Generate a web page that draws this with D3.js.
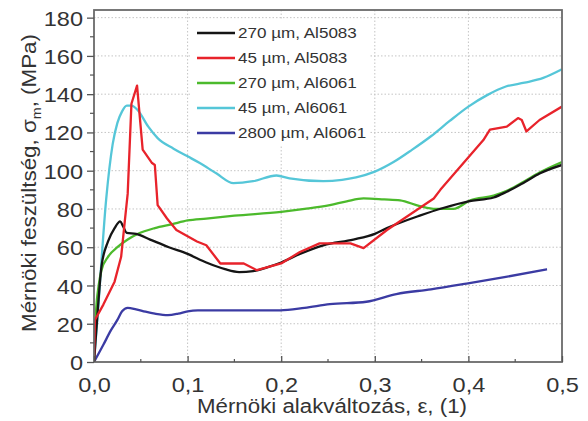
<!DOCTYPE html>
<html><head><meta charset="utf-8">
<script src="https://cdn.jsdelivr.net/npm/d3@7"></script>
<style>
html,body{margin:0;padding:0;background:#fff;}
svg{display:block;font-family:"Liberation Sans",Arial,sans-serif;}
</style></head>
<body><svg id="c" width="588" height="421"></svg>
<script>
const xTicks = [0, 0.1, 0.2, 0.3, 0.4, 0.5];
const yTicks = [0, 20, 40, 60, 80, 100, 120, 140, 160, 180];
const seriesNames = ["270 µm, Al5083", "45 µm, Al5083", "270 µm, Al6061", "45 µm, Al6061", "2800 µm, Al6061"];
const seriesColors = ["#151515", "#e8232b", "#4cba2c", "#55c6d8", "#3b3ba3"];

const black270_5083 = [[0,0],[0.004,27],[0.008,50],[0.015,63],[0.022,70],[0.028,73.5],[0.031,71],[0.035,67.5],[0.045,67],[0.06,64],[0.08,60],[0.1,56.5],[0.12,52],[0.14,48.5],[0.155,47],[0.17,47.5],[0.185,49.5],[0.2,52],[0.22,56.5],[0.245,61],[0.277,64],[0.3,67],[0.313,70],[0.348,76.5],[0.373,80.5],[0.4,84],[0.427,86],[0.441,89],[0.46,94],[0.476,98.5],[0.5,103]];
const red45_5083 = [[0,0],[0.001,22],[0.01,30],[0.022,42],[0.029,55],[0.033,74],[0.036,88],[0.040,135],[0.046,144.5],[0.052,111],[0.062,104],[0.065,103],[0.068,82],[0.078,75],[0.088,69],[0.11,63],[0.12,61],[0.135,51.5],[0.16,51.5],[0.174,48],[0.2,51.5],[0.22,57.5],[0.241,62],[0.274,62],[0.288,59.5],[0.313,69],[0.363,85.5],[0.37,90],[0.416,116],[0.423,121.5],[0.441,123],[0.453,127.5],[0.457,126.5],[0.462,120.5],[0.476,126.5],[0.5,133.5]];
const green270_6061 = [[0,0],[0.002,25],[0.005,40],[0.008,48],[0.015,55],[0.025,60],[0.036,64],[0.047,67],[0.065,70],[0.083,72],[0.1,74],[0.12,75],[0.15,76.5],[0.2,78.5],[0.225,80],[0.252,82],[0.27,84],[0.288,85.5],[0.31,85],[0.327,84.5],[0.348,81.5],[0.365,80],[0.384,80],[0.402,84.5],[0.427,87],[0.441,89.5],[0.46,94.5],[0.476,99],[0.5,104.5]];
const cyan45_6061 = [[0,0],[0.004,25],[0.013,85],[0.02,114],[0.025,125],[0.03,131],[0.035,134],[0.04,134],[0.047,131.5],[0.058,123],[0.068,117],[0.085,111.5],[0.1,107.5],[0.113,104],[0.131,98.5],[0.149,93.5],[0.17,94.5],[0.195,97.5],[0.209,96],[0.245,94.5],[0.265,95.2],[0.28,96.5],[0.3,99.5],[0.32,104.5],[0.34,111],[0.36,118],[0.38,126],[0.4,133.5],[0.42,139.5],[0.44,144],[0.46,146],[0.48,148.5],[0.5,153]];
const blue2800_6061 = [[0,0],[0.01,9],[0.018,16.5],[0.025,22],[0.03,26.5],[0.036,28.3],[0.045,27.5],[0.055,26.3],[0.065,25.3],[0.079,24.5],[0.09,25.3],[0.1,26.5],[0.111,27],[0.15,27],[0.199,27],[0.225,28.3],[0.252,30.2],[0.291,31.5],[0.323,35.5],[0.36,38],[0.398,41],[0.44,44.5],[0.484,48.5]];

const seriesData = [black270_5083, red45_5083, green270_6061, cyan45_6061, blue2800_6061];
const seriesSmooth = [true, false, true, true, true];
const drawOrder = [3, 4, 2, 0, 1];

const svg = d3.select("#c");
const m = {l:94, r:562, t:10, b:362};
const x = d3.scaleLinear().domain([0,0.5]).range([m.l, m.r]);
const y = d3.scaleLinear().domain([0,184]).range([m.b, m.t]);
const fmt = d => d3.format(".1f")(d).replace(".", ",");
function stretch(sel, k){
  sel.each(function(){ const w = this.getComputedTextLength(); d3.select(this).attr("textLength", w*k).attr("lengthAdjust","spacingAndGlyphs"); });
}

// grid
const grid = svg.append("g").attr("stroke","#c4c4c4").attr("stroke-width",1).attr("stroke-dasharray","1.5,2");
grid.selectAll(".gx").data(xTicks.slice(1,-1)).join("line")
  .attr("x1",d=>x(d)).attr("x2",d=>x(d)).attr("y1",m.t).attr("y2",m.b);
grid.selectAll(".gy").data(yTicks.slice(1)).join("line")
  .attr("y1",d=>y(d)).attr("y2",d=>y(d)).attr("x1",m.l).attr("x2",m.r);

// curves
svg.append("clipPath").attr("id","pc").append("rect")
  .attr("x",m.l).attr("y",m.t).attr("width",m.r-m.l).attr("height",m.b-m.t);
const lines = svg.append("g").attr("clip-path","url(#pc)");
drawOrder.forEach(i => {
  const gen = d3.line().x(d=>x(d[0])).y(d=>y(d[1]))
    .curve(seriesSmooth[i] ? d3.curveMonotoneX : d3.curveLinear);
  lines.append("path").datum(seriesData[i]).attr("d",gen)
    .attr("fill","none").attr("stroke",seriesColors[i]).attr("stroke-width",2.3)
    .attr("stroke-linejoin","round");
});

// frame
svg.append("rect").attr("x",m.l).attr("y",m.t).attr("width",m.r-m.l).attr("height",m.b-m.t)
  .attr("fill","none").attr("stroke","#6a6a6a").attr("stroke-width",1.8);

// y axis (outward ticks)
const yAx = d3.axisLeft(y).tickValues(yTicks).tickSize(7).tickPadding(4).tickFormat(d3.format("d"));
const gy = svg.append("g").attr("transform",`translate(${m.l},0)`).call(yAx);
gy.select(".domain").remove();
gy.selectAll(".tick line").attr("stroke","#555").attr("stroke-width",1.3);
gy.selectAll("text").attr("font-size",21).attr("fill","#333").attr("dy","0.36em");
stretch(gy.selectAll("text"), 1.12);
const yMinor = d3.range(10,184,20);
gy.selectAll(".ym").data(yMinor).join("line").attr("x1",0).attr("x2",-4)
  .attr("y1",d=>y(d)).attr("y2",d=>y(d)).attr("stroke","#555").attr("stroke-width",1.2);

// x axis (inward ticks)
const xAx = d3.axisBottom(x).tickValues(xTicks).tickSize(-6).tickPadding(15).tickFormat(fmt);
const gx = svg.append("g").attr("transform",`translate(0,${m.b})`).call(xAx);
gx.select(".domain").remove();
gx.selectAll(".tick line").attr("stroke","#555").attr("stroke-width",1.3);
gx.selectAll("text").attr("font-size",21).attr("fill","#333");
stretch(gx.selectAll("text"), 1.12);
const xMinor = d3.range(0.05,0.5,0.1);
gx.selectAll(".xm").data(xMinor).join("line").attr("y1",0).attr("y2",-3)
  .attr("x1",d=>x(d)).attr("x2",d=>x(d)).attr("stroke","#555").attr("stroke-width",1.2);

// axis titles
const xt = svg.append("text").attr("x",332).attr("y",413).attr("text-anchor","middle")
  .attr("font-size",20).attr("fill","#333").text("Mérnöki alakváltozás, ε, (1)");
xt.attr("textLength",270).attr("lengthAdjust","spacingAndGlyphs");
const yt = svg.append("text").attr("transform",`translate(36,${183}) rotate(-90)`)
  .attr("text-anchor","middle").attr("font-size",20.5).attr("fill","#333");
yt.append("tspan").text("Mérnöki feszültség, σ");
yt.append("tspan").attr("font-size",13).attr("dy",5).text("m");
yt.append("tspan").attr("dy",-5).text(", (MPa)");
yt.attr("textLength",298).attr("lengthAdjust","spacingAndGlyphs");

// legend
const lg = svg.append("g");
lg.append("rect").attr("x",192).attr("y",20).attr("width",178).attr("height",126).attr("fill","#fff");
seriesNames.forEach((name,i) => {
  const yy = 33 + i*25;
  lg.append("line").attr("x1",197).attr("x2",235).attr("y1",yy).attr("y2",yy)
    .attr("stroke",seriesColors[i]).attr("stroke-width",2.4);
  const t = lg.append("text").attr("x",238).attr("y",yy+5).attr("font-size",15.5).attr("fill","#333").text(name);
  stretch(t, 1.1);
});
</script></body></html>
